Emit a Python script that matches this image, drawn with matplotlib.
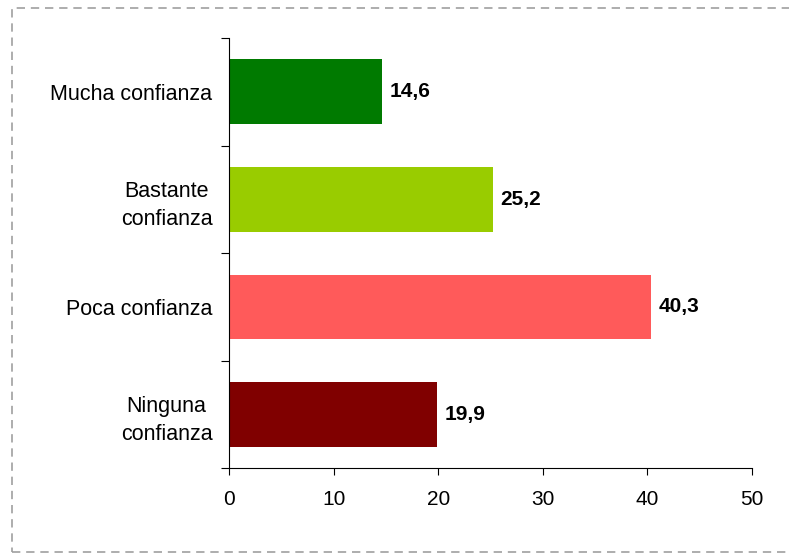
import matplotlib
matplotlib.use("Agg")
import matplotlib.pyplot as plt
from matplotlib.patches import Rectangle

categorias = ["Ninguna\nconfianza", "Poca confianza", "Bastante\nconfianza", "Mucha confianza"]
valores = [19.9, 40.3, 25.2, 14.6]
colores = ["#800000", "#FF5A5A", "#99CC00", "#007A00"]
xticks = [0, 10, 20, 30, 40, 50]

plt.rcParams['font.family'] = ['Liberation Sans', 'DejaVu Sans']

fig = plt.figure(figsize=(7.89, 5.53), dpi=100)
ax = fig.add_axes([229/789, 1-468/553, (752-229)/789, (468-38)/553])

pos = list(range(len(categorias)))
ax.barh(pos, valores, height=0.6, color=colores)
for p, v in zip(pos, valores):
    ax.text(v + 0.75, p, f"{v:.1f}".replace(".", ","), va="center", ha="left",
            fontsize=15, fontweight="bold")

ax.set_xlim(0, 50)
ax.set_ylim(-0.5, len(categorias) - 0.5)
ax.set_xticks(xticks)
ax.set_xticklabels([str(t) for t in xticks], fontsize=15)
ax.set_yticks([p - 0.5 for p in pos] + [len(pos) - 0.5])
ax.set_yticklabels([])
ax.set_yticks(pos, minor=True)
ax.set_yticklabels(categorias, minor=True, fontsize=15.5, ha="right",
                   multialignment="center", linespacing=1.45)
ax.tick_params(axis="y", which="minor", length=0, pad=12)
ax.tick_params(axis="y", which="major", length=6, direction="out")
ax.tick_params(axis="x", length=5, direction="out", pad=11)
for s in ["top", "right"]:
    ax.spines[s].set_visible(False)

fig.patches.append(Rectangle((12/789, 1/553), 1.2, 1-9/553, transform=fig.transFigure,
                             fill=False, edgecolor="#A0A0A0", linestyle=(0, (5, 3.5)),
                             linewidth=1.2))

fig.savefig("out.png", dpi=100)
